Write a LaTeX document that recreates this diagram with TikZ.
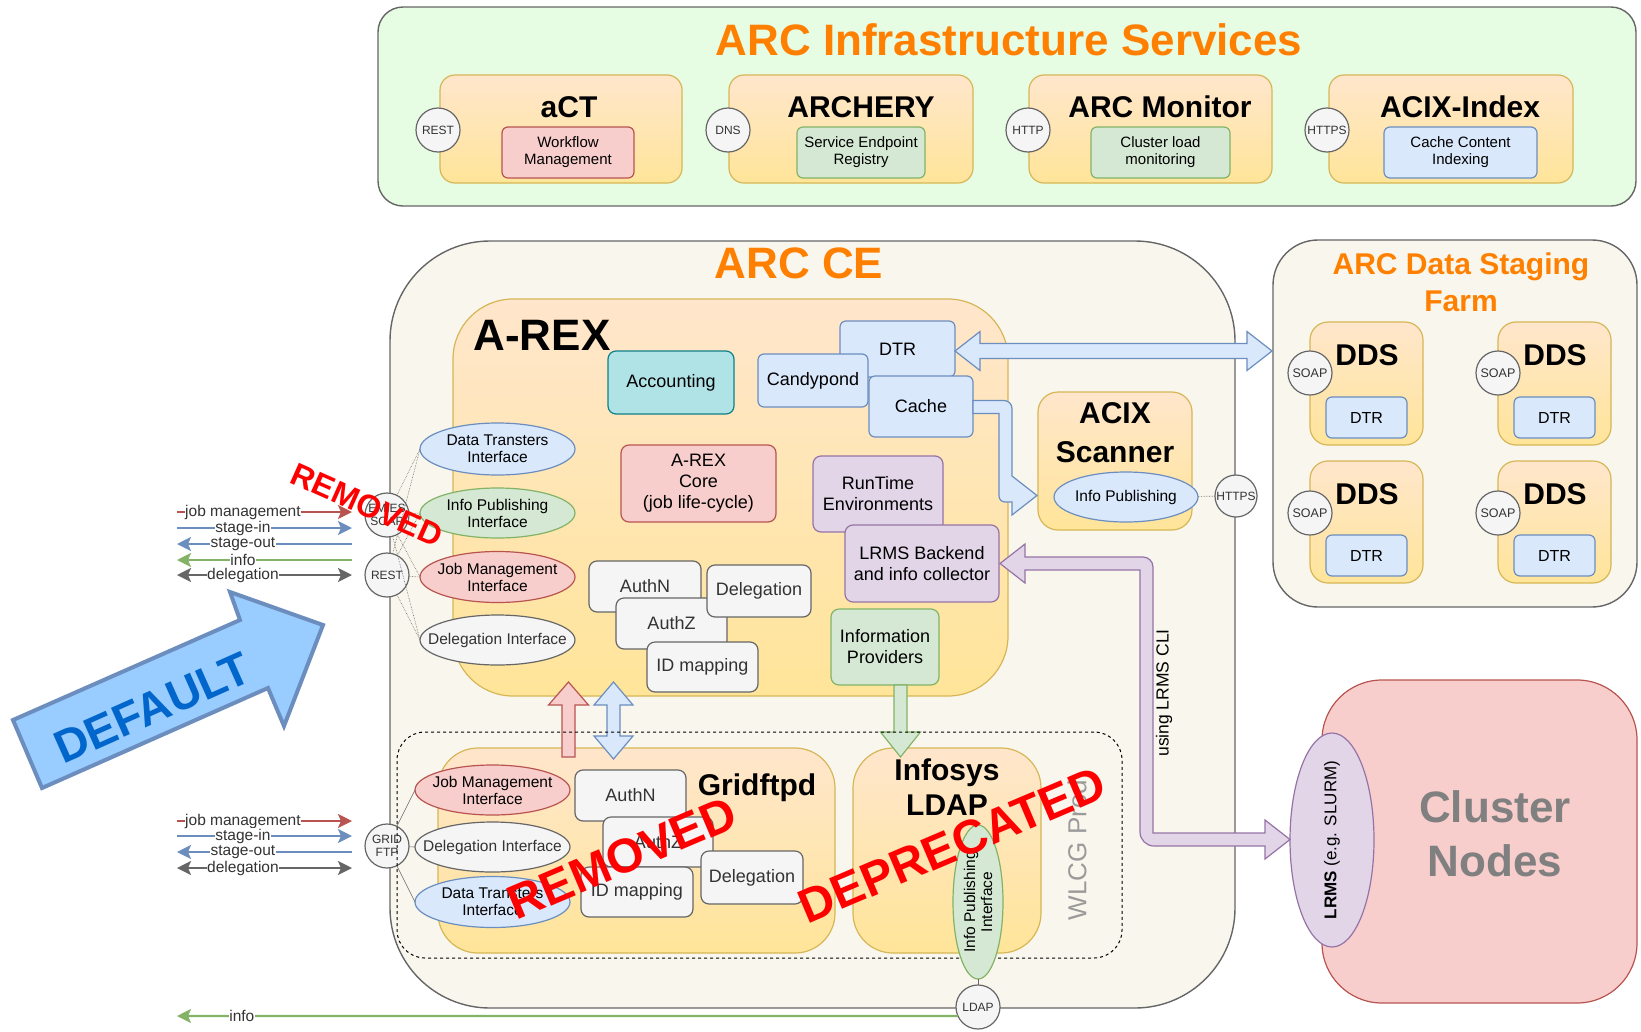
\documentclass[tikz,border=0pt]{standalone}
\usepackage{fontspec}
\setmainfont{Liberation Sans}
\usetikzlibrary{shapes.geometric,arrows.meta}
\definecolor{otop}{HTML}{FFE6CC}
\definecolor{obot}{HTML}{FFE599}
\definecolor{obrd}{HTML}{D6B656}
\definecolor{bfill}{HTML}{DAE8FC}
\definecolor{bline}{HTML}{6C8EBF}
\definecolor{gfill}{HTML}{D5E8D4}
\definecolor{gline}{HTML}{82B366}
\definecolor{rfill}{HTML}{F8CECC}
\definecolor{rline}{HTML}{B85450}
\definecolor{pfill}{HTML}{E1D5E7}
\definecolor{pline}{HTML}{9673A6}
\definecolor{yfill}{HTML}{F5F5F5}
\definecolor{yline}{HTML}{666666}
\definecolor{ytext}{HTML}{333333}
\definecolor{tfill}{HTML}{B0E3E6}
\definecolor{tline}{HTML}{0E8088}
\definecolor{beige}{HTML}{F9F7ED}
\definecolor{mint}{HTML}{E6FCE3}
\definecolor{orangeT}{HTML}{FF8000}
\definecolor{defblue}{HTML}{99CCFF}
\definecolor{deftext}{HTML}{0066CC}
\definecolor{wlcg}{HTML}{9A9A9A}
\newcommand\fs[2]{\fontsize{#1}{#2}\selectfont}
\tikzset{
 base/.style={inner sep=0pt, outer sep=0pt, align=center, line width=1.2pt},
 obox/.style={base, draw=obrd, top color=otop, bottom color=obot, rounded corners=#1},
 obox/.default=15pt,
 cont/.style={base, draw=yline, fill=beige, line width=1.4pt, rounded corners=#1},
 bbox/.style={base, draw=bline, fill=bfill, rounded corners=6pt},
 gbox/.style={base, draw=gline, fill=gfill, rounded corners=6pt},
 rbox/.style={base, draw=rline, fill=rfill, rounded corners=6pt},
 pbox/.style={base, draw=pline, fill=pfill, rounded corners=8pt},
 ybox/.style={base, draw=yline, fill=yfill, text=ytext, rounded corners=8pt},
 tbox/.style={base, draw=tline, fill=tfill, rounded corners=8pt},
 bell/.style={base, ellipse, draw=bline, fill=bfill},
 gell/.style={base, ellipse, draw=gline, fill=gfill},
 rell/.style={base, ellipse, draw=rline, fill=rfill},
 yell/.style={base, ellipse, draw=yline, fill=yfill},
 pell/.style={base, ellipse, draw=pline, fill=pfill},
 circ/.style={base, circle, draw=yline, fill=yfill, text=ytext, minimum size=44pt, font=\fs{12}{13}},
 ttl/.style={inner sep=0pt, align=center, font=\bfseries\fs{30}{36}},
 bigttl/.style={inner sep=0pt, align=center, text=orangeT, font=\bfseries\fs{44}{50}},
 lbl/.style={fill=white, inner sep=0.5pt, font=\fs{15.5}{17}, text=ytext},
 sm/.style={font=\fs{15}{17}},
 md/.style={font=\fs{18}{21}},
 el/.style={inner sep=0pt, align=center, font=\fs{15.5}{17}},
 thin/.style={draw=yline, line width=0.6pt},
 dotl/.style={draw=yline, line width=0.6pt, densely dotted},
 flow/.style={line width=2.2pt},
 blk/.style={line width=1.2pt, line join=miter},
 stamp/.style={inner sep=0pt, text=red, font=\bfseries\fs{48}{52}}
}
\begin{document}
\begin{tikzpicture}[x=1pt,y=-1pt,>={Stealth[length=14pt,width=14pt,inset=3pt]}]
\useasboundingbox (0,0) rectangle (1641,1031);

% ---------------- ARC Infrastructure Services ----------------
\node[base, draw=yline, fill=mint, line width=1.4pt, rounded corners=25pt, minimum width=1258pt, minimum height=199pt] (infra) at (1007,106.5) {};
\node[bigttl] (infrat) at (1009,40) {ARC Infrastructure Services};

\node[obox, minimum width=242pt, minimum height=108pt] (act) at (561,129) {};
\node[ttl] (actt) at (569,107) {aCT};
\node[rbox, sm, minimum width=132pt, minimum height=51pt] (actwm) at (568,152.5) {Workflow\\Management};
\node[circ] (restc) at (438,130) {REST};

\node[obox, minimum width=244pt, minimum height=108pt] (archery) at (851,129) {};
\node[ttl] (archt) at (861,107) {ARCHERY};
\node[gbox, sm, minimum width=128pt, minimum height=51pt] (archsr) at (861,152.5) {Service Endpoint\\Registry};
\node[circ] (dnsc) at (728,130) {DNS};

\node[obox, minimum width=243pt, minimum height=108pt] (monitor) at (1150.5,129) {};
\node[ttl] (mont) at (1160,107) {ARC Monitor};
\node[gbox, sm, minimum width=139pt, minimum height=51pt] (moncl) at (1160.5,152.5) {Cluster load\\monitoring};
\node[circ] (httpc) at (1028,130) {HTTP};

\node[obox, minimum width=244pt, minimum height=108pt] (acixi) at (1451,129) {};
\node[ttl] (acixit) at (1460,107) {ACIX-Index};
\node[bbox, sm, minimum width=153pt, minimum height=51pt] (acixcc) at (1460.5,152.5) {Cache Content\\Indexing};
\node[circ] (httpsc) at (1327,130) {HTTPS};

% ---------------- ARC CE ----------------
\node[cont=100pt, minimum width=845pt, minimum height=767pt] (arcce) at (812.5,624.5) {};
\node[bigttl] (arccet) at (799,263) {ARC CE};

% A-REX
\node[obox=60pt, minimum width=555pt, minimum height=397pt] (arex) at (730.5,497.5) {};
\node[inner sep=0pt, font=\bfseries\fs{44}{50}] (arext) at (542,335) {A-REX};

\node[tbox, md, minimum width=126pt, minimum height=63pt] (acct) at (671,382.5) {Accounting};
\node[bbox, md, minimum width=115pt, minimum height=56pt] (dtr) at (897.5,349) {DTR};
\node[bbox, md, minimum width=110pt, minimum height=53pt] (candy) at (813,380.5) {Candypond};
\node[bbox, md, minimum width=104pt, minimum height=61pt] (cache) at (921,406.5) {Cache};
\node[rbox, md, minimum width=155pt, minimum height=77pt, rounded corners=8pt] (core) at (698.5,483.5) {A-REX\\Core\\(job life-cycle)};
\node[pbox, md, minimum width=130pt, minimum height=76pt] (rte) at (878,494) {RunTime\\Environments};
\node[pbox, md, minimum width=154pt, minimum height=77pt] (lrmsb) at (922,563.5) {LRMS Backend\\and info collector};
\node[gbox, md, minimum width=108pt, minimum height=76pt, rounded corners=8pt] (infop) at (885,647) {Information\\Providers};

\node[bell, minimum width=155pt, minimum height=52pt] (dti) at (497.5,449) {};
\node[el] (dtit) at (dti) {Data Transters\\Interface};
\node[gell, minimum width=155pt, minimum height=50pt] (ipi) at (497.5,513) {};
\node[el] (ipit) at (ipi) {Info Publishing\\Interface};
\node[rell, minimum width=155pt, minimum height=51pt] (jmi) at (497.5,577) {};
\node[el] (jmit) at (jmi) {Job Management\\Interface};
\node[yell, minimum width=155pt, minimum height=50pt] (dei) at (497.5,640) {};
\node[el, text=ytext] (deit) at (dei) {Delegation Interface};

\node[ybox, md, minimum width=112pt, minimum height=51pt] (authn) at (645,586.5) {AuthN};
\node[ybox, md, minimum width=111pt, minimum height=51pt] (authz) at (671.5,623.5) {AuthZ};
\node[ybox, md, minimum width=104pt, minimum height=52pt] (deleg) at (759,591) {Delegation};
\node[ybox, md, minimum width=111pt, minimum height=50pt] (idmap) at (702.5,667) {ID mapping};

\node[circ] (emies) at (387,515) {EMIES\\SOAP};
\node[circ] (restce) at (387,575) {REST};

% ACIX Scanner
\node[obox=20pt, minimum width=154pt, minimum height=138pt] (acixs) at (1115,461) {};
\node[ttl, font=\bfseries\fs{30}{39}] (acixst) at (1115,432.5) {ACIX\\Scanner};
\node[bell, minimum width=144pt, minimum height=50pt] (acixip) at (1126,497) {};
\node[el] (acixipt) at (acixip) {Info Publishing};

% ---------------- Data Staging Farm ----------------
\node[cont=45pt, minimum width=364pt, minimum height=367pt] (farm) at (1455,423.5) {};
\node[inner sep=0pt, align=center, text=orangeT, font=\bfseries\fs{30}{37}] (farmt) at (1461,282) {ARC Data Staging\\Farm};

\node[obox=18pt, minimum width=113pt, minimum height=123pt] (dds1) at (1366.5,383.5) {};
\node[obox=18pt, minimum width=113pt, minimum height=123pt] (dds2) at (1554.5,383.5) {};
\node[obox=18pt, minimum width=113pt, minimum height=122pt] (dds3) at (1366.5,522) {};
\node[obox=18pt, minimum width=113pt, minimum height=122pt] (dds4) at (1554.5,522) {};
\node[ttl] (dds1t) at (1367,355) {DDS};
\node[ttl] (dds2t) at (1555,355) {DDS};
\node[ttl] (dds3t) at (1367,494) {DDS};
\node[ttl] (dds4t) at (1555,494) {DDS};
\node[bbox, font=\fs{16}{18}, minimum width=81pt, minimum height=41pt] (fdtr1) at (1366.5,417.5) {DTR};
\node[bbox, font=\fs{16}{18}, minimum width=81pt, minimum height=41pt] (fdtr2) at (1554.5,417.5) {DTR};
\node[bbox, font=\fs{16}{18}, minimum width=81pt, minimum height=41pt] (fdtr3) at (1366.5,555.5) {DTR};
\node[bbox, font=\fs{16}{18}, minimum width=81pt, minimum height=41pt] (fdtr4) at (1554.5,555.5) {DTR};
\node[circ, font=\fs{12.5}{14}] (soap1) at (1310,373) {SOAP};
\node[circ, font=\fs{12.5}{14}] (soap2) at (1498,373) {SOAP};
\node[circ, font=\fs{12.5}{14}] (soap3) at (1310,513) {SOAP};
\node[circ, font=\fs{12.5}{14}] (soap4) at (1498,513) {SOAP};

% ---------------- Cluster ----------------
\node[base, draw=rline, fill=rfill, rounded corners=60pt, minimum width=315pt, minimum height=323pt] (cluster) at (1479.5,841.5) {};
\node[inner sep=0pt, align=center, text=black!50, font=\bfseries\fs{44}{54}] (clustert) at (1495,834) {Cluster\\Nodes};
\node[pell, minimum width=84pt, minimum height=214pt] (lrms) at (1332,840) {};
\node[rotate=90, inner sep=0pt, font=\fs{17}{19}] (lrmst) at (lrms) {\textbf{LRMS} (e.g. SLURM)};

% ---------------- Gridftpd / Infosys ----------------
\node[obox=40pt, minimum width=397pt, minimum height=205pt] (grid) at (636.5,850.5) {};
\node[ttl] (gridt) at (757,788) {Gridftpd};
\node[rell, minimum width=155pt, minimum height=50pt] (gjmi) at (492.5,790) {};
\node[el] (gjmit) at (gjmi) {Job Management\\Interface};
\node[yell, minimum width=155pt, minimum height=50pt] (gdei) at (492.5,847) {};
\node[el, text=ytext] (gdeit) at (gdei) {Delegation Interface};
\node[bell, minimum width=155pt, minimum height=51pt] (gdti) at (492.5,902) {};
\node[el] (gdtit) at (gdti) {Data Transters\\Interface};
\node[ybox, md, minimum width=111pt, minimum height=51pt] (gauthn) at (630.5,795.5) {AuthN};
\node[ybox, md, minimum width=110pt, minimum height=50pt] (gauthz) at (658,842) {AuthZ};
\node[ybox, md, minimum width=112pt, minimum height=50pt] (gidmap) at (637,892) {ID mapping};
\node[ybox, md, minimum width=102pt, minimum height=53pt] (gdeleg) at (752,877.5) {Delegation};
\node[circ] (gridftp) at (387,846) {GRID\\FTP};

\node[obox=40pt, minimum width=188pt, minimum height=205pt] (infosys) at (947,850.5) {};
\node[ttl, font=\bfseries\fs{30}{35}] (infosyst) at (947,787.5) {Infosys\\LDAP};

% ---------------- block arrows ----------------
\draw[blk, draw=bline, fill=bfill] (955,351) -- (980,331.5) -- (980,343.5) -- (1247,343.5) -- (1247,331.5) -- (1272,351) -- (1247,370.5) -- (1247,358.5) -- (980,358.5) -- (980,370.5) -- cycle;
\draw[blk, draw=rline, fill=rfill] (568.5,682) -- (588.5,705) -- (575,705) -- (575,757) -- (562,757) -- (562,705) -- (548.5,705) -- cycle;
\draw[blk, draw=bline, fill=bfill] (613.5,682) -- (633,705) -- (620,705) -- (620,736) -- (633,736) -- (613.5,759) -- (594,736) -- (607,736) -- (607,705) -- (594,705) -- cycle;
\draw[blk, draw=gline, fill=gfill] (894,685) -- (907,685) -- (907,732) -- (920.5,732) -- (900.5,757) -- (880.5,732) -- (894,732) -- cycle;
\draw[blk, draw=bline, fill=bfill] (973,400.5) -- (990,400.5) [rounded corners=8pt] -- (1012,400.5) -- (1012,440) [sharp corners] -- (1012,476) -- (1037,495.5) -- (1012,515) -- (1012,502) -- (1005,502) [rounded corners=6pt] -- (999,502) -- (999,460) [sharp corners] -- (999,413.5) -- (973,413.5) -- cycle;
\draw[blk, draw=pline, fill=pfill] (1000,563.5) -- (1025,544) -- (1025,557) -- (1100,557) [rounded corners=10pt] -- (1153,557) -- (1153,700) [sharp corners] -- (1153,833) -- (1265,833) -- (1265,820) -- (1290,839.5) -- (1265,859) -- (1265,846) -- (1200,846) [rounded corners=14pt] -- (1140,846) -- (1140,700) [sharp corners] -- (1140,570) -- (1025,570) -- (1025,583) -- cycle;
\node[rotate=90, inner sep=0pt, font=\fs{17.5}{19}] (cli) at (1164,693) {using LRMS CLI};

% dashed WLCG region
\node[base, draw=black, line width=1pt, dashed, rounded corners=28pt, minimum width=725pt, minimum height=226pt] (wlcgbox) at (759.5,845) {};
\node[rotate=90, inner sep=0pt, text=wlcg, font=\fs{26}{28}] (wlcgt) at (1077,850) {WLCG Prod};

\node[gell, minimum width=50pt, minimum height=154pt] (ldapip) at (978,902) {};
\node[el, rotate=90] (ldapipt) at (ldapip) {Info Publishing\\Interface};
\node[circ] (ldapc) at (978,1007) {LDAP};
\node[circ, minimum size=42pt] (httpsce) at (1236,496) {HTTPS};

% ---------------- thin connectors ----------------
\foreach \e in {dti,ipi,jmi,dei}{
  \draw[dotl] (emies) -- (\e.west);
  \draw[dotl] (restce) -- (\e.west);
}
\foreach \e in {gjmi,gdei,gdti}{
  \draw[thin] (gridftp) -- (\e.west);
}
\draw[dotl] (acixip) -- (httpsce);
\draw[thin] (ldapip) -- (ldapc);

% left arrows, group 1
\coordinate (a1s) at (177,512); \coordinate (a1e) at (352,512);
\coordinate (a2s) at (177,528); \coordinate (a2e) at (352,528);
\coordinate (a3s) at (177,544); \coordinate (a3e) at (352,544);
\coordinate (a4s) at (177,560); \coordinate (a4e) at (352,560);
\coordinate (a5s) at (177,575); \coordinate (a5e) at (352,575);
\draw[flow, draw=rline, ->] (a1s) -- node[lbl, pos=0.377] (a1l) {job management} (a1e);
\draw[flow, draw=bline, ->] (a2s) -- node[lbl, pos=0.377] (a2l) {stage-in} (a2e);
\draw[flow, draw=bline, <-] (a3s) -- node[lbl, pos=0.377] (a3l) {stage-out} (a3e);
\draw[flow, draw=gline, <-] (a4s) -- node[lbl, pos=0.377] (a4l) {info} (a4e);
\draw[flow, draw=yline, <->] (a5s) -- node[lbl, pos=0.377] (a5l) {delegation} (a5e);

% left arrows, group 2
\coordinate (b1s) at (177,821); \coordinate (b1e) at (352,821);
\coordinate (b2s) at (177,836); \coordinate (b2e) at (352,836);
\coordinate (b3s) at (177,852); \coordinate (b3e) at (352,852);
\coordinate (b4s) at (177,868); \coordinate (b4e) at (352,868);
\draw[flow, draw=rline, ->] (b1s) -- node[lbl, pos=0.377] (b1l) {job management} (b1e);
\draw[flow, draw=bline, ->] (b2s) -- node[lbl, pos=0.377] (b2l) {stage-in} (b2e);
\draw[flow, draw=bline, <-] (b3s) -- node[lbl, pos=0.377] (b3l) {stage-out} (b3e);
\draw[flow, draw=yline, <->] (b4s) -- node[lbl, pos=0.377] (b4l) {delegation} (b4e);

% info to LDAP
\coordinate (infoend) at (177,1016);
\draw[flow, draw=gline, <-] (infoend) -- node[lbl, pos=0.083] (infol) {info} (ldapc.204);

% DEFAULT arrow
\draw[line width=4pt, draw=bline, fill=defblue, line join=miter] (42,788) -- (13,720) -- (240,620) -- (230,592) -- (323,625) -- (284,726) -- (268,688) -- cycle;
\node[rotate=24, inner sep=0pt, text=deftext, font=\bfseries\fs{46}{50}] (deflbl) at (152,708) {DEFAULT};

% stamps
\node[stamp, rotate=-24, font=\bfseries\fs{32}{36}] (rem1) at (367,505) {REMOVED};
\node[stamp, rotate=23] (rem2) at (622,858) {REMOVED};
\node[stamp, rotate=23] (depr) at (952,845) {DEPRECATED};
\end{tikzpicture}
\end{document}
